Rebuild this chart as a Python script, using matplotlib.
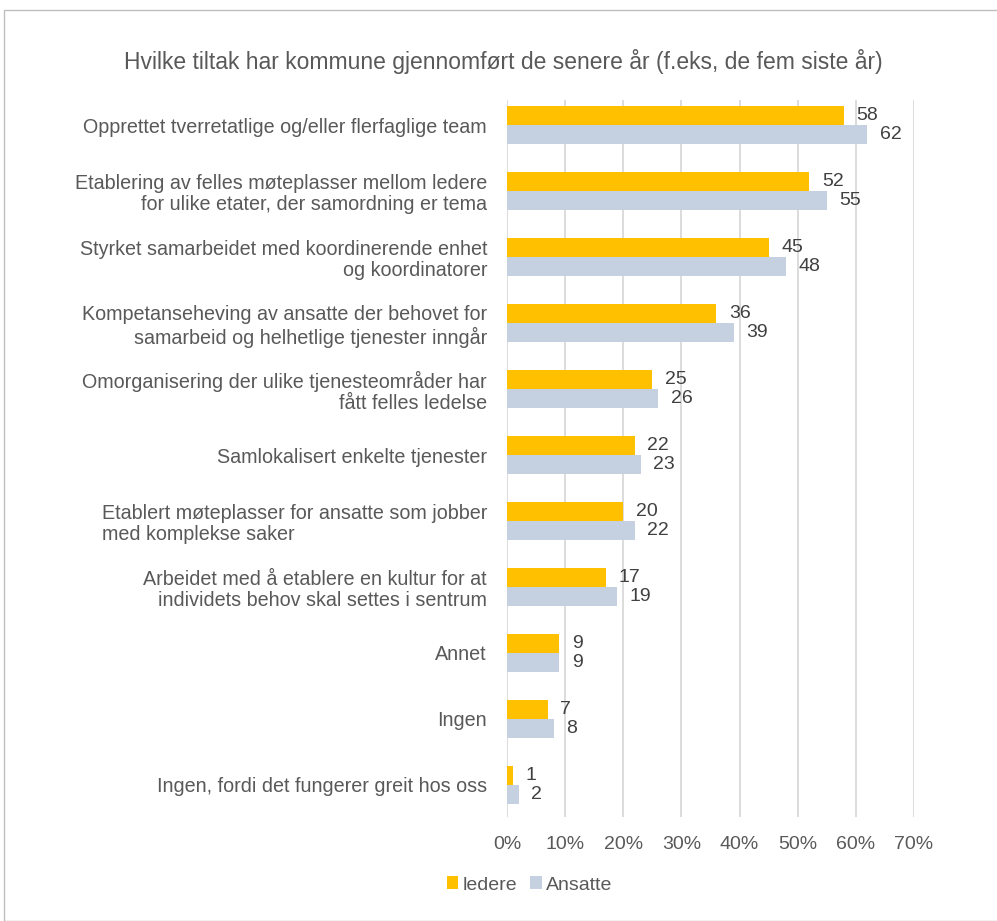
import matplotlib
matplotlib.use("Agg")
import matplotlib.pyplot as plt
from matplotlib.patches import Rectangle, Patch
from matplotlib.ticker import FuncFormatter
import numpy as np

plt.rcParams['font.family'] = ['Liberation Sans', 'DejaVu Sans']

title = "Hvilke tiltak har kommune gjennomført de senere år (f.eks, de fem siste år)"
categories = [
    "Opprettet tverretatlige og/eller flerfaglige team",
    "Etablering av felles møteplasser mellom ledere\nfor ulike etater, der samordning er tema",
    "Styrket samarbeidet med koordinerende enhet\nog koordinatorer",
    "Kompetanseheving av ansatte der behovet for\nsamarbeid og helhetlige tjenester inngår",
    "Omorganisering der ulike tjenesteområder har\nfått felles ledelse",
    "Samlokalisert enkelte tjenester",
    "Etablert møteplasser for ansatte som jobber\nmed komplekse saker",
    "Arbeidet med å etablere en kultur for at\nindividets behov skal settes i sentrum",
    "Annet",
    "Ingen",
    "Ingen, fordi det fungerer greit hos oss",
]
ledere = [58, 52, 45, 36, 25, 22, 20, 17, 9, 7, 1]
ansatte = [62, 55, 48, 39, 26, 23, 22, 19, 9, 8, 2]
series_names = ["ledere", "Ansatte"]
xticks = [0, 10, 20, 30, 40, 50, 60, 70]

c_led = "#FFC000"
c_ans = "#C5D0E0"
txt = "#595959"
val_txt = "#404040"

W, H = 997, 921
fig = plt.figure(figsize=(W / 100, H / 100), dpi=100)
fig.patches.append(Rectangle((4 / W, 0), 1.2, 1 - 10 / H, transform=fig.transFigure,
                             fill=False, edgecolor="#BFBFBF", linewidth=1.0))

ax = fig.add_axes([507 / W, 1 - 817 / H, (914 - 507) / W, (817 - 100) / H])
y = np.arange(len(categories))
h = 0.288
b1 = ax.barh(y - h / 2, ledere, height=h, color=c_led, zorder=3)
b2 = ax.barh(y + h / 2, ansatte, height=h, color=c_ans, zorder=3)
for rects, vals in ((b1, ledere), (b2, ansatte)):
    for r, v in zip(rects, vals):
        ax.annotate(f"{v}", (r.get_width(), r.get_y() + r.get_height() / 2),
                    xytext=(9, 0), textcoords="offset points", va="center", ha="left",
                    fontsize=14, color=val_txt)

ax.set_xlim(0, 70)
ax.set_ylim(10.485, -0.379)
ax.set_xticks(xticks)
ax.xaxis.set_major_formatter(FuncFormatter(lambda v, p: f"{v:.0f}%"))
ax.set_yticks(y)
ax.set_yticklabels(categories)
for lab, cat in zip(ax.get_yticklabels(), categories):
    lab.set_multialignment("left" if cat.startswith("Etablert") else "right")
    lab.set_linespacing(1.15)
ax.tick_params(axis="y", length=0, pad=14.4, labelsize=14.2, labelcolor=txt)
ax.tick_params(axis="x", length=0, pad=13.5, labelsize=14, labelcolor=txt)
ax.grid(axis="x", color="#D9D9D9", linewidth=1.3, zorder=0)
for s in ax.spines.values():
    s.set_visible(False)

fig.text(503 / W, 1 - 62 / H, title, ha="center", va="center", fontsize=16.5, color=txt)

handles = [Patch(facecolor=c_led), Patch(facecolor=c_ans)]
fig.legend(handles, series_names, loc="center", bbox_to_anchor=(529.5 / W, 1 - 885 / H),
           ncol=2, frameon=False, fontsize=14, labelcolor=txt, handlelength=0.6,
           handleheight=0.6, handletextpad=0.2, columnspacing=0.7)

fig.savefig("out.png", dpi=100)
